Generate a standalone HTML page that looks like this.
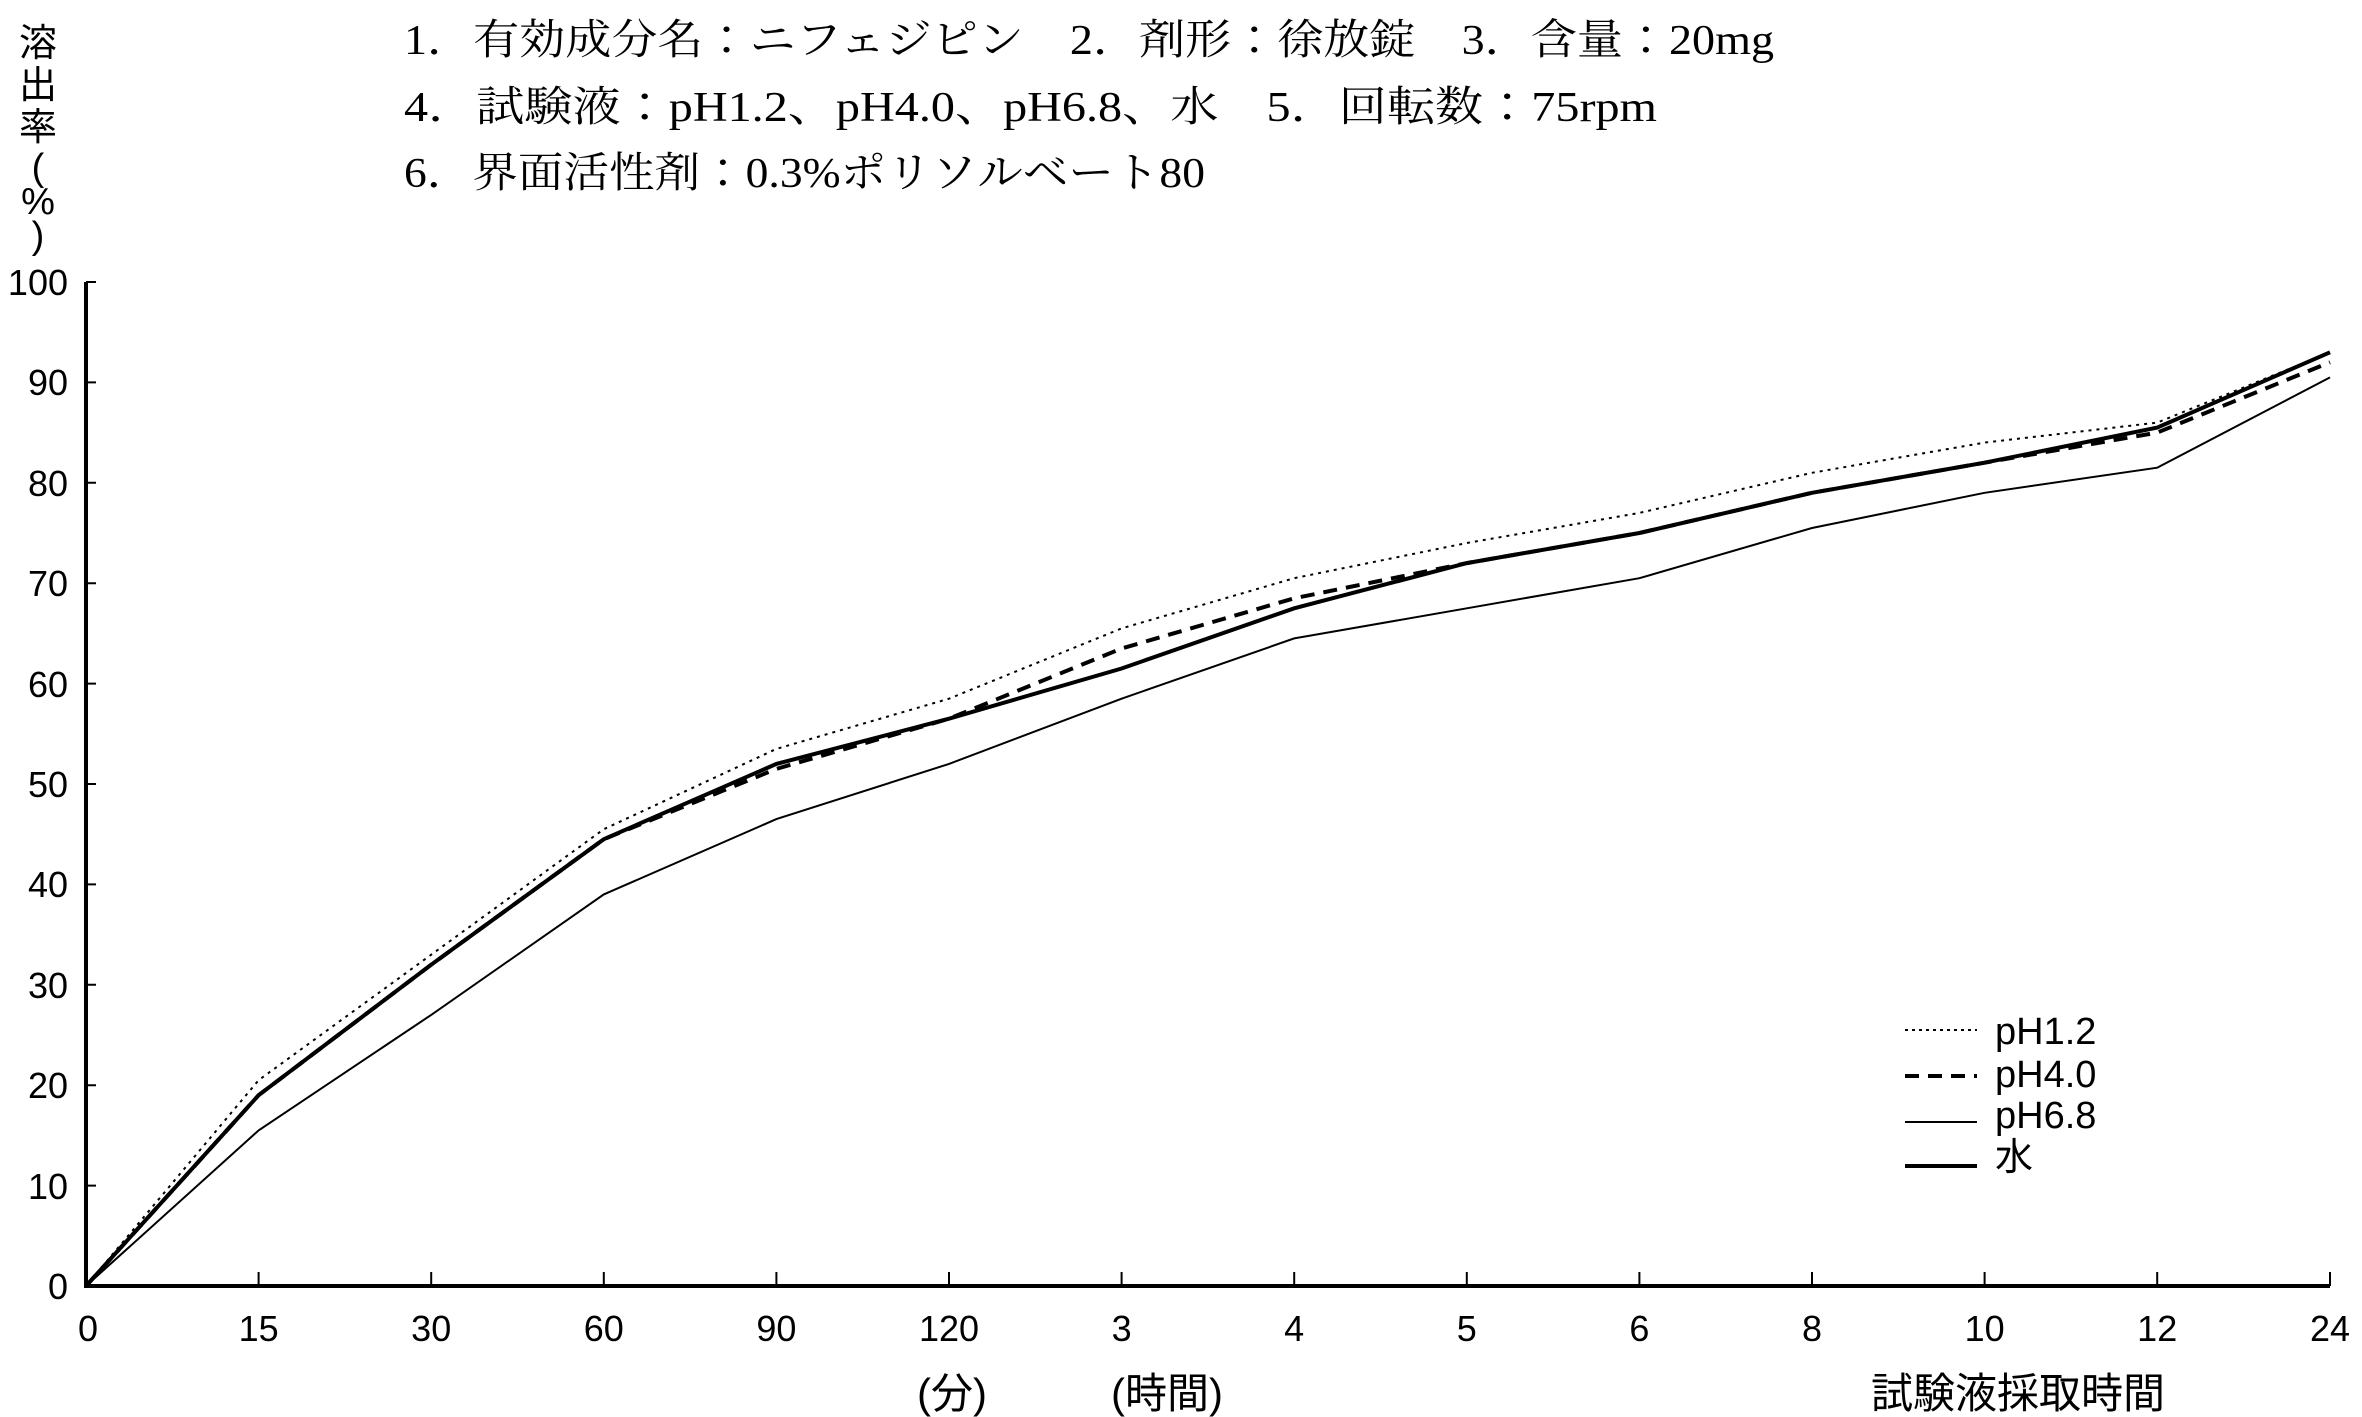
<!DOCTYPE html>
<html><head><meta charset="utf-8"><style>
html,body{margin:0;padding:0;background:#fff;}
svg{display:block;}
.t{font-family:"Liberation Serif","Noto Serif CJK JP",serif;font-size:42px;fill:#000;}
.a{font-family:"Liberation Sans","Noto Sans CJK JP",sans-serif;font-size:36px;fill:#000;}
</style></head><body>
<svg width="2362" height="1417" viewBox="0 0 2362 1417" xmlns="http://www.w3.org/2000/svg">
<text class="t" x="404" y="54" textLength="1370" lengthAdjust="spacingAndGlyphs">1．有効成分名：ニフェジピン　2．剤形：徐放錠　3．含量：20mg</text>
<text class="t" x="404" y="121" textLength="1253" lengthAdjust="spacingAndGlyphs">4．試験液：pH1.2、pH4.0、pH6.8、水　5．回転数：75rpm</text>
<text class="t" x="404" y="187" textLength="801" lengthAdjust="spacingAndGlyphs">6．界面活性剤：0.3%ポリソルベート80</text>
<g class="a" text-anchor="middle" style="font-size:38px">
<text x="38" y="56">溶</text><text x="38" y="98">出</text><text x="38" y="140">率</text>
<text x="38" y="180">(</text><text x="38" y="214">%</text><text x="38" y="248">)</text>
</g>
<g stroke="#000" fill="none">
<path d="M86 282 V1286 H2330" stroke-width="4"/>
<path d="M86 282h10M86 382.4h10M86 482.8h10M86 583.2h10M86 683.6h10M86 784h10M86 884.4h10M86 984.8h10M86 1085.2h10M86 1185.6h10" stroke-width="2"/>
<path d="M258.6 1286v-14M431.2 1286v-14M603.8 1286v-14M776.4 1286v-14M949 1286v-14M1121.6 1286v-14M1294.2 1286v-14M1466.8 1286v-14M1639.4 1286v-14M1812 1286v-14M1984.6 1286v-14M2157.2 1286v-14M2330 1286v-14" stroke-width="2"/>
<polyline stroke-width="2" stroke-dasharray="3 5" points="86,1286 258.6,1080.2 431.2,954.7 603.8,829.2 776.4,748.9 949,698.7 1121.6,628.4 1294.2,578.2 1466.8,543 1639.4,512.9 1812,472.8 1984.6,442.6 2157.2,422.6 2330,352.3"/>
<polyline stroke-width="4" stroke-dasharray="14 9" points="86,1286 258.6,1095.2 431.2,964.7 603.8,839.2 776.4,768.9 949,718.7 1121.6,648.5 1294.2,598.3 1466.8,563.1 1639.4,533 1812,492.8 1984.6,462.7 2157.2,432.6 2330,362.3"/>
<polyline stroke-width="2" points="86,1286 258.6,1130.4 431.2,1014.9 603.8,894.4 776.4,819.1 949,763.9 1121.6,698.7 1294.2,638.4 1466.8,608.3 1639.4,578.2 1812,528 1984.6,492.8 2157.2,467.7 2330,377.4"/>
<polyline stroke-width="4" points="86,1286 258.6,1095.2 431.2,964.7 603.8,839.2 776.4,763.9 949,718.7 1121.6,668.5 1294.2,608.3 1466.8,563.1 1639.4,533 1812,492.8 1984.6,462.7 2157.2,427.6 2330,352.3"/>
<path d="M1905 1030h72" stroke-width="2" stroke-dasharray="3 4"/>
<path d="M1905 1076h72" stroke-width="4" stroke-dasharray="14 9"/>
<path d="M1905 1122h72" stroke-width="2"/>
<path d="M1905 1166h72" stroke-width="4"/>
</g>
<g class="a" text-anchor="end">
<text x="68" y="295">100</text><text x="68" y="395">90</text><text x="68" y="496">80</text><text x="68" y="596">70</text><text x="68" y="697">60</text><text x="68" y="797">50</text><text x="68" y="897">40</text><text x="68" y="998">30</text><text x="68" y="1098">20</text><text x="68" y="1199">10</text><text x="68" y="1299">0</text>
</g>
<g class="a" text-anchor="middle">
<text x="88" y="1341">0</text><text x="258.6" y="1341">15</text><text x="431.2" y="1341">30</text><text x="603.8" y="1341">60</text><text x="776.4" y="1341">90</text><text x="949" y="1341">120</text><text x="1121.6" y="1341">3</text><text x="1294.2" y="1341">4</text><text x="1466.8" y="1341">5</text><text x="1639.4" y="1341">6</text><text x="1812" y="1341">8</text><text x="1984.6" y="1341">10</text><text x="2157.2" y="1341">12</text><text x="2330" y="1341">24</text>
</g>
<g class="a" text-anchor="middle" style="font-size:42px">
<text x="952" y="1408">(分)</text><text x="1167" y="1408">(時間)</text><text x="2018" y="1408">試験液採取時間</text>
</g>
<g class="a" style="font-size:38px">
<text x="1995" y="1044">pH1.2</text><text x="1995" y="1087">pH4.0</text><text x="1995" y="1128">pH6.8</text><text x="1995" y="1170">水</text>
</g>
</svg>
</body></html>
